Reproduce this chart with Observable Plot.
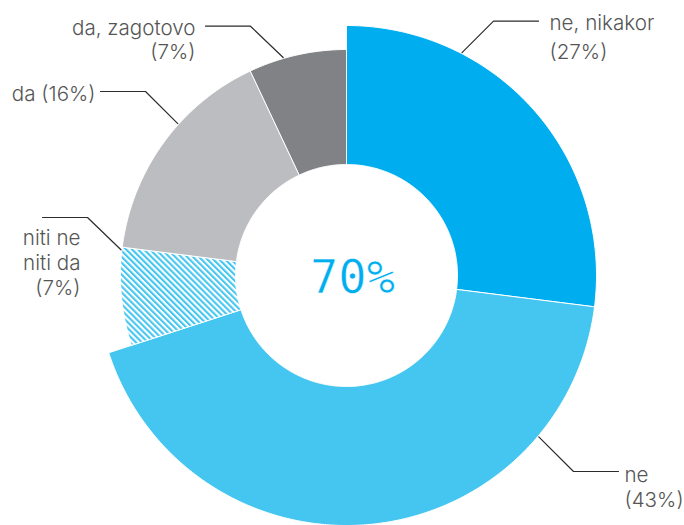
<!DOCTYPE html>
<html>
<head>
<meta charset="utf-8">
<script src="https://cdn.jsdelivr.net/npm/d3@7"></script>
<script src="https://cdn.jsdelivr.net/npm/@observablehq/plot@0.6"></script>
<style>
  html, body { margin: 0; padding: 0; background: #fff; }
  #chart svg { display: block; }
</style>
</head>
<body>
<div id="chart"></div>
<script>
// ---- data ----
const categories = ["ne, nikakor", "ne", "niti ne niti da", "da", "da, zagotovo"];
const values = [27, 43, 7, 16, 7];
const labelLines = [["ne, nikakor", "(27%)"], ["ne", "(43%)"], ["niti ne", "niti da", "(7%)"], ["da (16%)"], ["da, zagotovo", "(7%)"]];
const centerLabel = "70%";

// ---- style / layout ----
const fills = ["#00AEEF", "#45C6F0", "url(#hatch)", "#BCBDC0", "#808285"];
const outerR = [250, 250, 226, 226, 226];
const innerR = 111;
const W = 684, H = 525, CX = 346, CY = 275;
const fs = 20.6;
// leader layout (px relative to donut center, y up)
const leaders = [
  {angle: 27.4, elbow: [147, 254.3], end: [192, 254.3], tx: 203, anchor: "start", base: [245.7, 216.7]},
  {angle: 130, elbow: [227, -196], end: [272, -196], tx: 278, anchor: "start", base: [-206.7, -231]},
  {angle: 276.5, elbow: [-259, 58], end: [-304, 58], tx: -266, anchor: "end", base: [30.7, 6, -19.3]},
  {angle: 312, elbow: [-201, 184], end: [-246, 184], tx: -251, anchor: "end", base: [175]},
  {angle: 343.8, elbow: [-96, 249.3], end: [-141, 249.3], tx: -151, anchor: "end", base: [240.7, 216.7]}
];

const total = d3.sum(values);
const rad = a => a * Math.PI / 180;
let cum = 0;
const slices = categories.map((c, i) => {
  const a0 = cum / total * 360;
  cum += values[i];
  const a1 = cum / total * 360;
  const pts = [];
  const n = Math.max(2, Math.ceil((a1 - a0) / 0.5));
  for (let k = 0; k <= n; k++) {
    const a = a0 + (a1 - a0) * k / n;
    pts.push({x: outerR[i] * Math.sin(rad(a)), y: outerR[i] * Math.cos(rad(a))});
  }
  for (let k = n; k >= 0; k--) {
    const a = a0 + (a1 - a0) * k / n;
    pts.push({x: innerR * Math.sin(rad(a)), y: innerR * Math.cos(rad(a))});
  }
  pts.push(pts[0]);
  return {category: c, points: pts, fill: fills[i]};
});

const leaderLines = leaders.map((l, i) => {
  const r = outerR[i] + 1;
  return [
    {x: r * Math.sin(rad(l.angle)), y: r * Math.cos(rad(l.angle))},
    {x: l.elbow[0], y: l.elbow[1]},
    {x: l.end[0], y: l.end[1]}
  ];
});

const textRows = [];
leaders.forEach((l, i) => {
  labelLines[i].forEach((t, j) => {
    textRows.push({text: t, x: l.tx, y: l.base[j] + 0.32 * fs, anchor: l.anchor});
  });
});

const plot = Plot.plot({
  width: W,
  height: H,
  margin: 0,
  x: {domain: [-CX, W - CX], range: [0, W], axis: null},
  y: {domain: [-(H - CY), CY], range: [H, 0], axis: null},
  marks: [
    ...slices.map(s => Plot.line(s.points, {x: "x", y: "y", fill: s.fill, stroke: "white", strokeWidth: 1, curve: "linear"})),
    ...leaderLines.map(pts => Plot.line(pts, {x: "x", y: "y", stroke: "#2b2b2b", strokeWidth: 1.2})),
    Plot.text(textRows.filter(d => d.anchor === "start"), {x: "x", y: "y", text: "text", textAnchor: "start", fontSize: fs, fill: "#555", fontFamily: "Inter", fontWeight: 300}),
    Plot.text(textRows.filter(d => d.anchor === "end"), {x: "x", y: "y", text: "text", textAnchor: "end", fontSize: fs, fill: "#555", fontFamily: "Inter", fontWeight: 300}),
    Plot.text([centerLabel], {x: () => 6, y: () => -2.5, text: d => d, fontSize: 47, fill: "#00AEEF", stroke: "white", strokeWidth: 0.6, fontFamily: "DejaVu Sans Mono", letterSpacing: 7})
  ]
});

// hatch pattern
const ns = "http://www.w3.org/2000/svg";
const defs = document.createElementNS(ns, "defs");
defs.innerHTML = '<pattern id="hatch" patternUnits="userSpaceOnUse" width="4.2" height="4.2" patternTransform="rotate(-45)"><rect width="4.2" height="4.2" fill="#ffffff"/><rect width="2.1" height="4.2" fill="#45C6F0"/></pattern>';
plot.insertBefore(defs, plot.firstChild);
// keep the stroke on top of the fill so it thins the glyphs
plot.querySelectorAll("text").forEach(t => { if (t.textContent === centerLabel) t.setAttribute("paint-order", "fill"); });
document.getElementById("chart").appendChild(plot);
</script>
</body>
</html>
